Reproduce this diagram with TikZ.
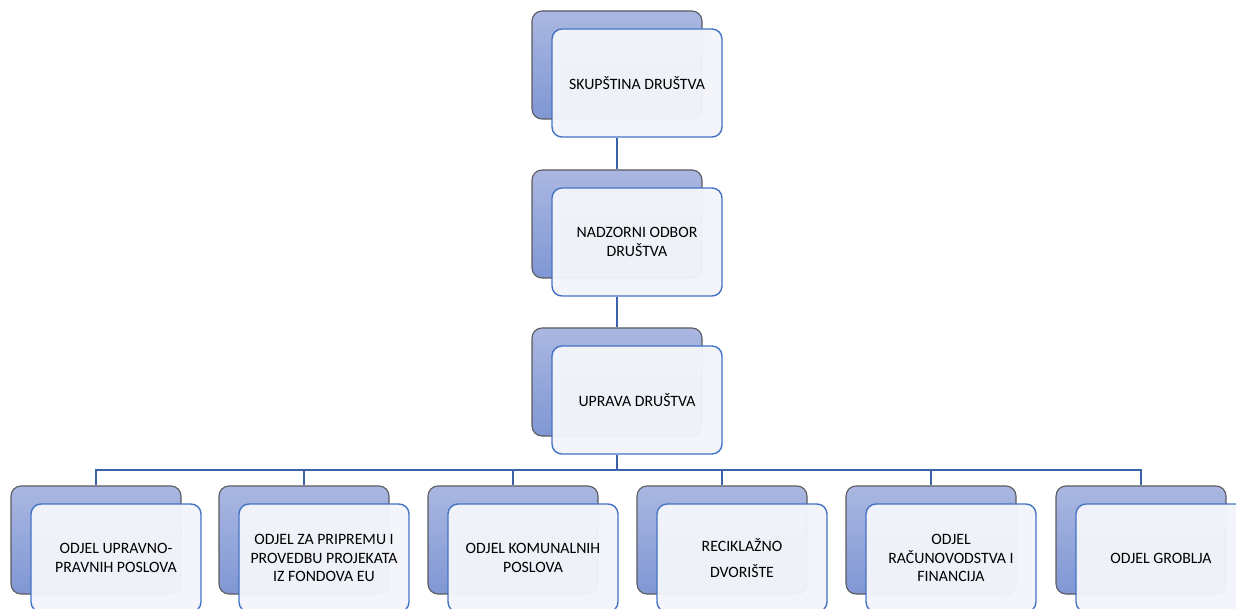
\documentclass[tikz,border=0pt]{standalone}
\usepackage{fontspec}
\setmainfont{Carlito}
\usepackage{tikz}
\usetikzlibrary{positioning, calc}
\definecolor{orgblue}{RGB}{68, 114, 196}
\definecolor{linkblue}{RGB}{60, 98, 170}
\definecolor{backtop}{RGB}{170, 183, 225}
\definecolor{backbot}{RGB}{128, 151, 212}
\definecolor{backline}{RGB}{90, 90, 95}
\definecolor{frontfill}{RGB}{243, 245, 250}

\begin{document}
\begin{tikzpicture}[x=1pt, y=-1pt,
  backbox/.style={draw=backline, line width=1.1pt, rounded corners=10pt,
    top color=backtop, bottom color=backbot,
    minimum width=170pt, minimum height=108pt, inner sep=0pt},
  frontbox/.style={draw=orgblue, line width=1.4pt, rounded corners=10pt,
    fill=frontfill, fill opacity=0.96, text opacity=1,
    minimum width=170pt, minimum height=108pt, align=center,
    font=\fontsize{15.8}{18.5}\selectfont},
  link/.style={draw=linkblue, line width=2.8pt}]
  \useasboundingbox (0, 0) rectangle (1236, 609);
  \clip (0, 0) rectangle (1236, 609);

  % upper levels
  \node[backbox] (bk1) at (617, 65) {};
  \node[frontbox] (fr1) at ($(bk1)+(20, 18)$) {SKUPŠTINA DRUŠTVA};
  \node[backbox] (bk2) at (617, 224) {};
  \node[frontbox] (fr2) at ($(bk2)+(20, 18)$) {NADZORNI ODBOR\\DRUŠTVA};
  \node[backbox] (bk3) at (617, 382) {};
  \node[frontbox] (fr3) at ($(bk3)+(20, 18)$) {UPRAVA DRUŠTVA};

  % departments
  \node[backbox] (dep1) at (96, 540) {};
  \node[frontbox] (dfr1) at ($(dep1)+(20, 18)$) {ODJEL UPRAVNO-\\PRAVNIH POSLOVA};
  \node[backbox] (dep2) at (304, 540) {};
  \node[frontbox] (dfr2) at ($(dep2)+(20, 18)$) {ODJEL ZA PRIPREMU I\\PROVEDBU PROJEKATA\\IZ FONDOVA EU};
  \node[backbox] (dep3) at (513, 540) {};
  \node[frontbox] (dfr3) at ($(dep3)+(20, 18)$) {ODJEL KOMUNALNIH\\POSLOVA};
  \node[backbox] (dep4) at (722, 540) {};
  \node[frontbox] (dfr4) at ($(dep4)+(20, 18)$) {RECIKLAŽNO\\[7pt]DVORIŠTE};
  \node[backbox] (dep5) at (931, 540) {};
  \node[frontbox] (dfr5) at ($(dep5)+(20, 18)$) {ODJEL\\RAČUNOVODSTVA I\\FINANCIJA};
  \node[backbox] (dep6) at (1141, 540) {};
  \node[frontbox] (dfr6) at ($(dep6)+(20, 18)$) {ODJEL GROBLJA};

  % connectors
  \draw[link] (bk1 |- fr1.south) -- (bk2.north);
  \draw[link] (bk2 |- fr2.south) -- (bk3.north);
  \coordinate (bar) at (617, 470);
  \draw[link] (bk3 |- fr3.south) -- (bar);
  \foreach \i in {1,...,6}
    \draw[link] (bar) -| (dep\i.north);
\end{tikzpicture}
\end{document}
